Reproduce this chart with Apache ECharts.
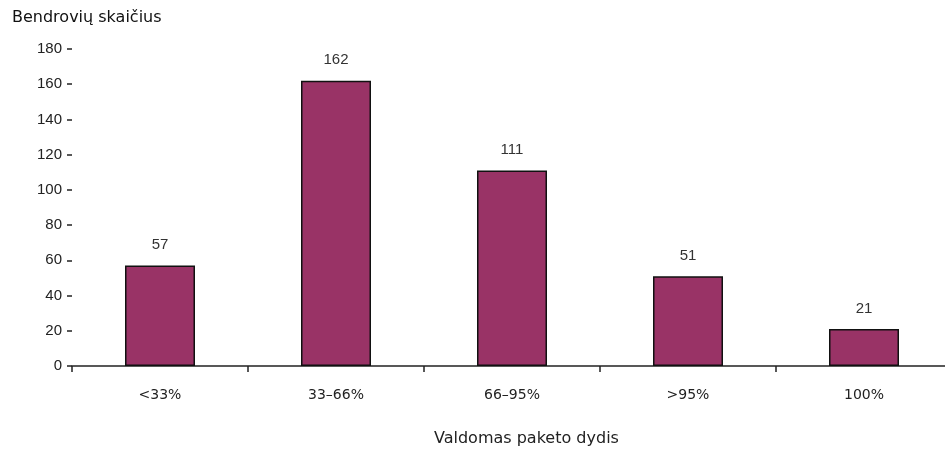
<!DOCTYPE html>
<html><head><meta charset="utf-8">
<script src="https://cdn.jsdelivr.net/npm/echarts@6/dist/echarts.min.js"></script>
<style>html,body{margin:0;padding:0;background:#fff;overflow:hidden}#c{width:953px;height:451px}</style>
</head><body><div id="c"></div>
<script>
const categories = ['<33%', '33–66%', '66–95%', '>95%', '100%'];
const values = [57, 162, 111, 51, 21];
const yTitle = 'Bendrovių skaičius';
const xTitle = 'Valdomas paketo dydis';

const chart = echarts.init(document.getElementById('c'));
const font = 'Liberation Sans, Arial, sans-serif';
const wide = 'DejaVu Sans, sans-serif';
chart.setOption({
  animation: false,
  grid: { left: 72, right: 1, top: 49, bottom: 85 },
  graphic: [
    { type: 'text', left: 12, top: 10, style: { text: yTitle, font: '16px ' + wide, fill: '#111' } },
    { type: 'text', left: 434, top: 431, style: { text: xTitle, font: '16px ' + wide, fill: '#222' } }
  ],
  xAxis: {
    type: 'category', data: categories,
    axisLine: { lineStyle: { color: '#222', width: 1.5 } },
    axisTick: { show: true, length: 6, lineStyle: { color: '#222', width: 1.5 } },
    axisLabel: { color: '#222', fontFamily: wide, fontSize: 14, margin: 22 }
  },
  yAxis: {
    type: 'value', min: 0, max: 180, interval: 20,
    axisLine: { show: false },
    axisTick: { show: true, length: 5, lineStyle: { color: '#222', width: 1.5 } },
    splitLine: { show: false },
    axisLabel: { color: '#222', fontFamily: font, fontSize: 15, margin: 10 }
  },
  series: [{
    type: 'bar', data: values, barWidth: 70,
    itemStyle: { color: '#993366', borderColor: '#111', borderWidth: 1.5 },
    label: { show: true, position: 'top', distance: 13, color: '#333', fontFamily: font, fontSize: 15 }
  }]
});
</script></body></html>
